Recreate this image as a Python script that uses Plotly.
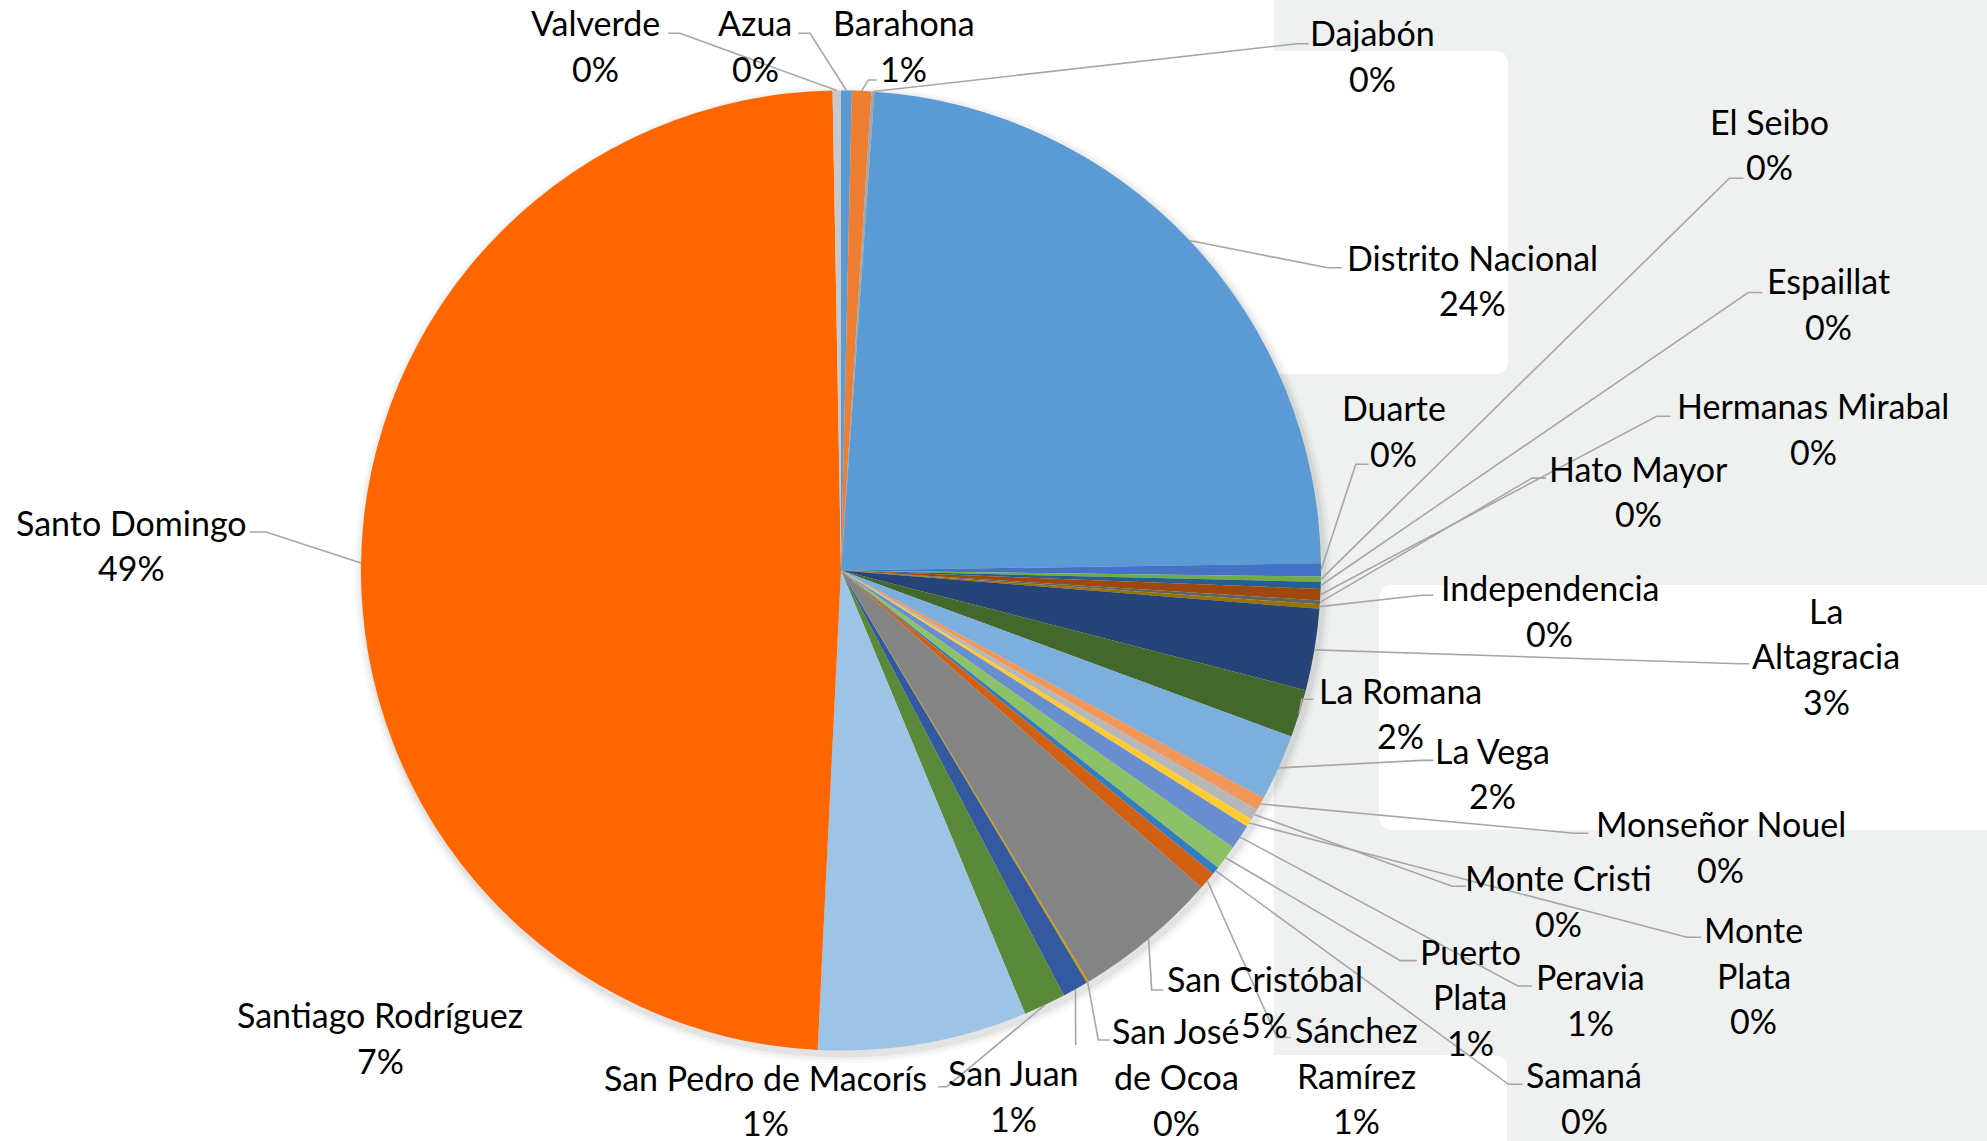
import math
import plotly.graph_objects as go

W, H = 1987, 1141

# ---------------- data ----------------
categories = [
    "Azua", "Barahona", "Dajabón", "Distrito Nacional", "Duarte", "El Seibo",
    "Espaillat", "Hermanas Mirabal", "Hato Mayor", "Independencia",
    "La Altagracia", "La Romana", "La Vega", "Monseñor Nouel", "Monte Cristi",
    "Monte Plata", "Peravia", "Puerto Plata", "Samaná", "Sánchez Ramírez",
    "San Cristóbal", "San José de Ocoa", "San Juan", "San Pedro de Macorís",
    "Santiago Rodríguez", "Santo Domingo", "Valverde",
]
values = [
    0.36, 0.65, 0.10, 23.65, 0.44, 0.18,
    0.23, 0.38, 0.13, 0.15,
    2.74, 1.61, 2.24, 0.44, 0.37,
    0.28, 0.84, 0.83, 0.26, 0.60,
    4.89, 0.07, 0.87, 1.42,
    7.04, 48.94, 0.28,
]
colors = [
    "#5B9BD5", "#ED7D31", "#A5A5A5", "#5B9BD5", "#4472C4", "#70AD47",
    "#255E91", "#9E480E", "#636363", "#997300",
    "#264478", "#43682B", "#7CAFDD", "#F1975A", "#B7B7B7",
    "#FFCD33", "#698ED0", "#8CC168", "#327DC2", "#D26012",
    "#848484", "#CC9A00", "#335AA1", "#5A8A39",
    "#9DC3E6", "#FF6600", "#C9C9C9",
]

# ---------------- layout (pixel positions) ----------------
CX, CY, R = 841, 570.5, 480
LINE_GAP = 45.6
FONT = dict(family="Lato, 'Open Sans', sans-serif", size=34, color="#000000")

label_wrap = {
    "La Altagracia": ["La", "Altagracia"],
    "Monte Plata": ["Monte", "Plata"],
    "Puerto Plata": ["Puerto", "Plata"],
    "Sánchez Ramírez": ["Sánchez", "Ramírez"],
    "San José de Ocoa": ["San José", "de Ocoa"],
}
label_pos = {
    "Valverde": (595.6, 45.6), "Azua": (755.3, 45.6), "Barahona": (903.5, 45.6),
    "Dajabón": (1372.4, 55.8), "Distrito Nacional": (1472.5, 280),
    "Duarte": (1393.9, 430.2), "El Seibo": (1769, 143.8), "Espaillat": (1828.6, 303.5),
    "Hermanas Mirabal": (1813.4, 428.3), "Hato Mayor": (1638.5, 491),
    "Independencia": (1549.8, 610.2), "La Altagracia": (1826, 655.8),
    "La Romana": (1400.3, 712.8), "La Vega": (1492.8, 773),
    "Monseñor Nouel": (1720.9, 846.5), "Monte Cristi": (1558.7, 900.4),
    "Monte Plata": (1753.8, 975.1), "Puerto Plata": (1470, 996.7),
    "Peravia": (1590.4, 999.2), "San Cristóbal": (1264.7, 1001.7),
    "Sánchez Ramírez": (1356, 1075.2), "Samaná": (1584, 1097.4),
    "San José de Ocoa": (1176, 1076.5), "San Juan": (1013.8, 1095.5),
    "San Pedro de Macorís": (765.4, 1100), "Santiago Rodríguez": (380.2, 1037.2),
    "Santo Domingo": (131.8, 545),
}
# leader: (elbow, end)
leaders = {
    "Valverde": ((680, 33.3), (668.3, 33.3)),
    "Azua": ((810, 33.3), (798.3, 33.3)),
    "Barahona": ((868.3, 80), (876.7, 80)),
    "Dajabón": ((1297, 43.7), (1308.8, 43.7)),
    "Distrito Nacional": ((1327.6, 267.8), (1341.7, 267.8)),
    "Duarte": ((1355.8, 464.3), (1368.5, 464.3)),
    "El Seibo": ((1729.4, 178.3), (1743.5, 178.3)),
    "Espaillat": ((1748.2, 292.5), (1762.3, 292.5)),
    "Hermanas Mirabal": ((1656.6, 416.2), (1670.7, 416.2)),
    "Hato Mayor": ((1532, 478.1), (1546.1, 478.1)),
    "Independencia": ((1421.6, 595.3), (1433.3, 595.3)),
    "La Altagracia": ((1738.8, 663.7), (1749.2, 663.7)),
    "La Romana": ((1301.7, 699.3), (1313.3, 699.3)),
    "La Vega": ((1421.6, 760.4), (1433.3, 760.4)),
    "Monseñor Nouel": ((1574.3, 833.2), (1588.4, 833.2)),
    "Monte Cristi": ((1452.1, 886.3), (1466.2, 886.3)),
    "Monte Plata": ((1687.1, 937.3), (1701.2, 937.3)),
    "Peravia": ((1517.9, 986), (1532, 986)),
    "Puerto Plata": ((1400.4, 960.6), (1416.9, 960.6)),
    "Samaná": ((1508.5, 1084.3), (1522.6, 1084.3)),
    "Sánchez Ramírez": ((1277, 1037.5), (1291, 1037.5)),
    "San Cristóbal": ((1151.7, 990), (1163.3, 990)),
    "San José de Ocoa": ((1098.3, 1040), (1110, 1040)),
    "San Juan": ((1075.7, 1045), (1075.7, 1045)),
    "San Pedro de Macorís": ((946.7, 1086.7), (938.3, 1086.7)),
    "Santo Domingo": ((266, 532), (249.6, 532)),
}

BG_GRAY = "#EFF1F0"
LEADER = dict(color="#A6A6A6", width=1.6)


def px(x):
    return x / W


def py(y):
    return 1 - y / H


def rrect(x0, y0, x1, y1, r):
    pts = [
        f"M {px(x0 + r)},{py(y0)}",
        f"L {px(x1 - r)},{py(y0)}",
        f"Q {px(x1)},{py(y0)} {px(x1)},{py(y0 + r)}",
        f"L {px(x1)},{py(y1 - r)}",
        f"Q {px(x1)},{py(y1)} {px(x1 - r)},{py(y1)}",
        f"L {px(x0 + r)},{py(y1)}",
        f"Q {px(x0)},{py(y1)} {px(x0)},{py(y1 - r)}",
        f"L {px(x0)},{py(y0 + r)}",
        f"Q {px(x0)},{py(y0)} {px(x0 + r)},{py(y0)}",
        "Z",
    ]
    return " ".join(pts)


shapes = []
# background panels
shapes.append(dict(type="rect", xref="paper", yref="paper", x0=px(1274), x1=1.01,
                   y0=-0.01, y1=1.01, fillcolor=BG_GRAY, line=dict(width=0), layer="below"))
for (x0, y0, x1, y1) in [(1250, 51, 1508, 374), (1379, 585, 2010, 830), (1250, 1055, 1507, 1170)]:
    shapes.append(dict(type="path", xref="paper", yref="paper", path=rrect(x0, y0, x1, y1, 14),
                       fillcolor="#FFFFFF", line=dict(width=0), layer="below"))
# soft pie shadow
for d, a in [(9, 0.025), (6, 0.035), (3, 0.05)]:
    shapes.append(dict(type="circle", xref="paper", yref="paper",
                       x0=px(CX - R - d + 2), x1=px(CX + R + d + 2),
                       y0=py(CY + R + d + 4), y1=py(CY - R - d + 4),
                       fillcolor=f"rgba(0,0,0,{a})", line=dict(width=0), layer="below"))

total = sum(values)
cum = 0.0
annotations = []
for name, v in zip(categories, values):
    mid = (cum + v / 2) / total * 2 * math.pi
    cum += v
    sx, sy = CX + R * math.sin(mid), CY - R * math.cos(mid)
    if name in leaders:
        (ex, ey), (fx, fy) = leaders[name]
        shapes.append(dict(type="path", xref="paper", yref="paper",
                           path=f"M {px(sx)},{py(sy)} L {px(ex)},{py(ey)} L {px(fx)},{py(fy)}",
                           line=LEADER, layer="above"))
    pct = f"{round(v / total * 100):.0f}%"
    lines = label_wrap.get(name, [name]) + [pct]
    lx, ly = label_pos[name]
    n = len(lines)
    for i, t in enumerate(lines):
        yy = ly + (i - (n - 1) / 2) * LINE_GAP
        annotations.append(dict(x=px(lx), y=py(yy), xref="paper", yref="paper", text=t,
                                showarrow=False, xanchor="center", yanchor="middle", font=FONT))

fig = go.Figure(go.Pie(
    labels=categories, values=values, sort=False, direction="clockwise", rotation=0,
    marker=dict(colors=colors, line=dict(width=0)), textinfo="none",
    hoverinfo="label+percent", showlegend=False,
    domain=dict(x=[px(CX - R), px(CX + R)], y=[py(CY + R), py(CY - R)]),
))
fig.update_layout(
    width=W, height=H, autosize=False,
    margin=dict(l=0, r=0, t=0, b=0),
    paper_bgcolor="#FFFFFF", plot_bgcolor="#FFFFFF",
    shapes=shapes, annotations=annotations,
)
fig.write_html(
    "out.html",
    config={"displayModeBar": False},
    post_script="document.body.style.margin='0';document.body.style.overflow='hidden';",
)
